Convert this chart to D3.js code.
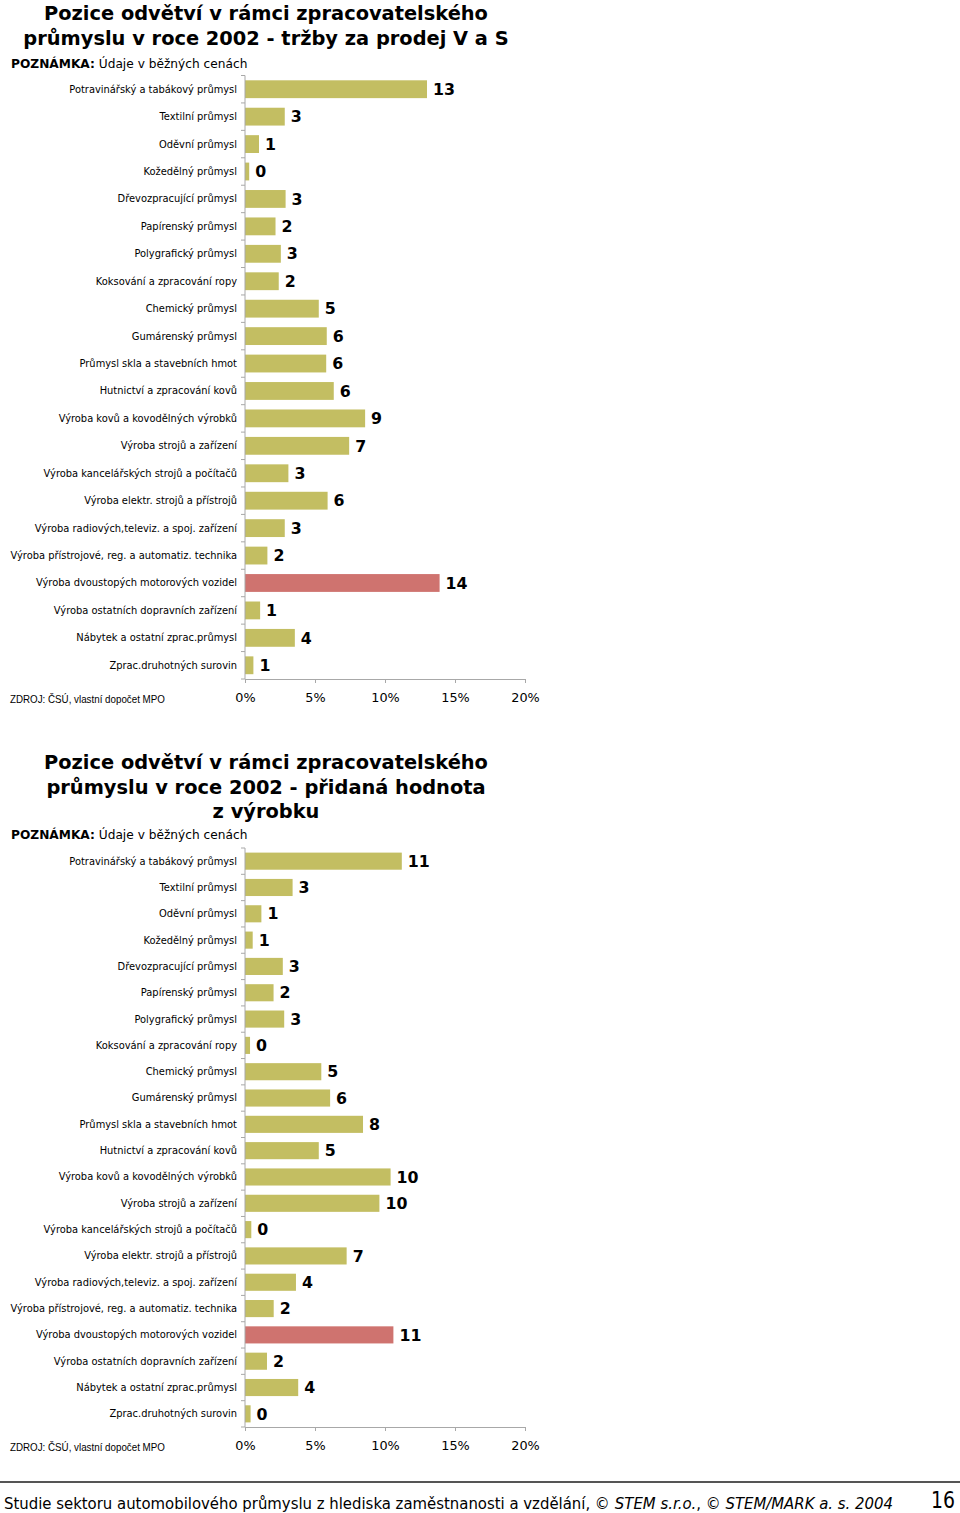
<!DOCTYPE html>
<html><head><meta charset="utf-8">
<script src="https://cdn.jsdelivr.net/npm/d3@7"></script>
<style>
html,body{margin:0;padding:0;background:#fff;}
svg{display:block;}
</style></head>
<body>
<script>
// ---------- DATA ----------
const categories = [
  "Potravinářský a tabákový průmysl",
  "Textilní průmysl",
  "Oděvní průmysl",
  "Kožedělný průmysl",
  "Dřevozpracující průmysl",
  "Papírenský průmysl",
  "Polygrafický průmysl",
  "Koksování a zpracování ropy",
  "Chemický průmysl",
  "Gumárenský průmysl",
  "Průmysl skla a stavebních hmot",
  "Hutnictví a zpracování kovů",
  "Výroba kovů a kovodělných výrobků",
  "Výroba strojů a zařízení",
  "Výroba kancelářských strojů a počítačů",
  "Výroba elektr. strojů a přístrojů",
  "Výroba radiových,televiz. a spoj. zařízení",
  "Výroba přístrojové, reg. a automatiz. technika",
  "Výroba dvoustopých motorových vozidel",
  "Výroba ostatních dopravních zařízení",
  "Nábytek a ostatní zprac.průmysl",
  "Zprac.druhotných surovin"
];
const highlightCategory = "Výroba dvoustopých motorových vozidel";

// share of sales (%)
const salesValues = [13.0, 2.84, 1.0, 0.3, 2.9, 2.18, 2.56, 2.41, 5.27, 5.84, 5.8, 6.34, 8.58, 7.44, 3.1, 5.9, 2.84, 1.6, 13.9, 1.08, 3.56, 0.6];
// share of value added (%)
const valueAddedValues = [11.2, 3.4, 1.17, 0.55, 2.7, 2.04, 2.8, 0.36, 5.45, 6.08, 8.43, 5.27, 10.4, 9.6, 0.45, 7.26, 3.64, 2.05, 10.6, 1.57, 3.8, 0.4];

const tickValues = [0, 5, 10, 15, 20];
const tickLabels = ["0%", "5%", "10%", "15%", "20%"];

const title1 = ["Pozice odvětví v rámci zpracovatelského", "průmyslu v roce 2002 - tržby za prodej V a S"];
const title2 = ["Pozice odvětví v rámci zpracovatelského", "průmyslu v roce 2002 - přidaná hodnota", "z výrobku"];
const noteBold = "POZNÁMKA:";
const noteText = " Údaje v běžných cenách";
const sourceText = "ZDROJ: ČSÚ, vlastní dopočet MPO";
const footerParts = [
  { t: "Studie sektoru automobilového průmyslu z hlediska zaměstnanosti a vzdělání, © ", i: false },
  { t: "STEM s.r.o.", i: true },
  { t: ", © ", i: false },
  { t: "STEM/MARK a. s. 2004", i: true }
];
const pageNumber = "16";

// ---------- DRAW ----------
const W = 960, H = 1513;
const svg = d3.select("body").append("svg").attr("width", W).attr("height", H);

const OLIVE = "#c3be62", RED = "#cf736f", AXIS = "#a8a8a8";
const FONT = "'DejaVu Sans', Verdana, sans-serif";

function drawChart(opt) {
  const g = svg.append("g");
  // title
  g.selectAll("text.title").data(opt.title).join("text")
    .attr("class", "title")
    .attr("x", 266).attr("y", (d, i) => opt.titleY + i * 24.6)
    .attr("text-anchor", "middle")
    .attr("font-family", FONT).attr("font-weight", "bold")
    .attr("font-size", 19.4).attr("fill", "#000")
    .text(d => d);
  // note
  const note = g.append("text").attr("x", 11).attr("y", opt.noteY)
    .attr("font-family", FONT).attr("font-size", 12.2).attr("fill", "#000");
  note.append("tspan").attr("font-weight", "bold").text(noteBold);
  note.append("tspan").text(noteText);

  const x = d3.scaleLinear().domain([0, 20]).range([245, 525]);
  const y = d3.scaleBand().domain(categories).range(opt.yRange).paddingInner(0.35).paddingOuter(0.175);

  // bars
  g.selectAll("rect.bar").data(opt.values).join("rect")
    .attr("class", "bar")
    .attr("x", x(0)).attr("y", (d, i) => y(categories[i]))
    .attr("width", d => x(d) - x(0)).attr("height", y.bandwidth())
    .attr("fill", (d, i) => categories[i] === highlightCategory ? RED : OLIVE);

  // value labels
  g.selectAll("text.val").data(opt.values).join("text")
    .attr("class", "val")
    .attr("x", d => x(d) + 6)
    .attr("y", (d, i) => y(categories[i]) + y.bandwidth() / 2)
    .attr("dy", "0.36em")
    .attr("font-family", FONT).attr("font-weight", "bold")
    .attr("font-size", 15.8).attr("fill", "#000")
    .text(d => d3.format(".0f")(d));

  // category labels
  g.selectAll("text.cat").data(categories).join("text")
    .attr("class", "cat")
    .attr("x", 237)
    .attr("y", d => y(d) + y.bandwidth() / 2)
    .attr("dy", "0.35em")
    .attr("text-anchor", "end")
    .attr("font-family", FONT).attr("font-size", 9.9).attr("fill", "#000")
    .text(d => d);

  // left axis line with ticks at band boundaries
  const [y0, y1] = opt.yRange;
  g.append("line").attr("x1", x(0)).attr("x2", x(0)).attr("y1", y0).attr("y2", y1)
    .attr("stroke", AXIS).attr("stroke-width", 1);
  const bounds = d3.range(categories.length + 1).map(i => y0 + i * y.step());
  g.selectAll("line.ytick").data(bounds).join("line")
    .attr("x1", x(0) - 4).attr("x2", x(0)).attr("y1", d => d).attr("y2", d => d)
    .attr("stroke", AXIS).attr("stroke-width", 1);

  // bottom axis
  const axis = d3.axisBottom(x).tickValues(tickValues)
    .tickFormat((d, i) => tickLabels[i]).tickSizeInner(4).tickSizeOuter(0).tickPadding(10);
  const ag = g.append("g").attr("transform", `translate(0,${y1})`).call(axis);
  ag.select(".domain").attr("stroke", AXIS);
  ag.selectAll(".tick line").attr("stroke", AXIS);
  ag.selectAll(".tick text").attr("font-family", FONT).attr("font-size", 12.8).attr("fill", "#000");

  // source
  const src = g.append("text").attr("x", 0).attr("y", 0)
    .attr("font-family", "'Liberation Sans', Arial, sans-serif").attr("font-size", 10.8)
    .attr("fill", "#000").text(sourceText);
  const sw = src.node().getComputedTextLength();
  src.attr("transform", `translate(10,${y1 + 24}) scale(${155 / sw},1)`);
}

drawChart({ title: title1, titleY: 20, noteY: 68, values: salesValues, yRange: [75.5, 679] });
drawChart({ title: title2, titleY: 769, noteY: 839, values: valueAddedValues, yRange: [848, 1427] });

// footer
svg.append("line").attr("x1", 0).attr("x2", W).attr("y1", 1482).attr("y2", 1482)
  .attr("stroke", "#555").attr("stroke-width", 2);
const fg = svg.append("g");
let cx = 0;
footerParts.forEach(p => {
  const t = fg.append("text").attr("x", cx).attr("y", 0)
    .attr("font-family", FONT).attr("font-size", 16).attr("fill", "#000")
    .attr("font-style", p.i ? "italic" : "normal")
    .style("white-space", "pre")
    .attr("xml:space", "preserve")
    .text(p.t);
  cx += t.node().getComputedTextLength();
});
const sx = 889 / cx;
fg.attr("transform", `translate(4,1508.5) scale(${sx},1)`);

const pn = svg.append("text").attr("x", 0).attr("y", 0)
  .attr("font-family", FONT).attr("font-size", 23).attr("fill", "#000")
  .text(pageNumber);
const pw = pn.node().getComputedTextLength();
pn.attr("transform", `translate(931,1507.5) scale(${24 / pw},1)`);
</script>
</body></html>
